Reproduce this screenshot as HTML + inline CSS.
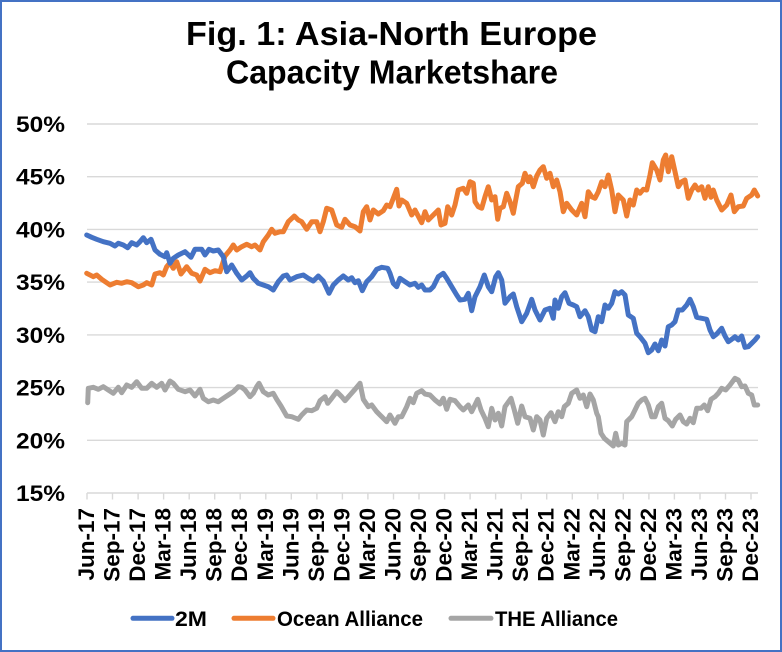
<!DOCTYPE html>
<html>
<head>
<meta charset="utf-8">
<style>
  html,body{margin:0;padding:0;background:#fff;}
  svg{display:block;}
  text{font-family:"Liberation Sans",Arial,sans-serif;font-weight:bold;fill:#000;}
</style>
</head>
<body>
<svg width="782" height="652" viewBox="0 0 782 652" xmlns="http://www.w3.org/2000/svg">
  <rect x="1" y="1" width="780" height="650" fill="#fff" stroke="#4472C4" stroke-width="2"/>

  <!-- Title -->
  <text x="391.5" y="45" font-size="33" text-anchor="middle" textLength="411" lengthAdjust="spacingAndGlyphs">Fig. 1: Asia-North Europe</text>
  <text x="392" y="83.5" font-size="33" text-anchor="middle" textLength="332" lengthAdjust="spacingAndGlyphs">Capacity Marketshare</text>

  <!-- Gridlines -->
  <g stroke="#D9D9D9" stroke-width="1.4">
    <line x1="87" y1="124" x2="758" y2="124"/>
    <line x1="87" y1="176.7" x2="758" y2="176.7"/>
    <line x1="87" y1="229.4" x2="758" y2="229.4"/>
    <line x1="87" y1="282.1" x2="758" y2="282.1"/>
    <line x1="87" y1="334.9" x2="758" y2="334.9"/>
    <line x1="87" y1="387.6" x2="758" y2="387.6"/>
    <line x1="87" y1="440.3" x2="758" y2="440.3"/>
    <line x1="87" y1="493" x2="758" y2="493"/>
  </g>
  <!-- Ticks -->
  <g stroke="#D9D9D9" stroke-width="1.4">
    <line x1="87" y1="493" x2="87" y2="499.5"/>
    <line x1="112.5" y1="493" x2="112.5" y2="499.5"/>
    <line x1="138.1" y1="493" x2="138.1" y2="499.5"/>
    <line x1="163.6" y1="493" x2="163.6" y2="499.5"/>
    <line x1="189.2" y1="493" x2="189.2" y2="499.5"/>
    <line x1="214.7" y1="493" x2="214.7" y2="499.5"/>
    <line x1="240.2" y1="493" x2="240.2" y2="499.5"/>
    <line x1="265.8" y1="493" x2="265.8" y2="499.5"/>
    <line x1="291.3" y1="493" x2="291.3" y2="499.5"/>
    <line x1="316.9" y1="493" x2="316.9" y2="499.5"/>
    <line x1="342.4" y1="493" x2="342.4" y2="499.5"/>
    <line x1="367.9" y1="493" x2="367.9" y2="499.5"/>
    <line x1="393.5" y1="493" x2="393.5" y2="499.5"/>
    <line x1="419" y1="493" x2="419" y2="499.5"/>
    <line x1="444.6" y1="493" x2="444.6" y2="499.5"/>
    <line x1="470.1" y1="493" x2="470.1" y2="499.5"/>
    <line x1="495.6" y1="493" x2="495.6" y2="499.5"/>
    <line x1="521.2" y1="493" x2="521.2" y2="499.5"/>
    <line x1="546.7" y1="493" x2="546.7" y2="499.5"/>
    <line x1="572.3" y1="493" x2="572.3" y2="499.5"/>
    <line x1="597.8" y1="493" x2="597.8" y2="499.5"/>
    <line x1="623.3" y1="493" x2="623.3" y2="499.5"/>
    <line x1="648.9" y1="493" x2="648.9" y2="499.5"/>
    <line x1="674.4" y1="493" x2="674.4" y2="499.5"/>
    <line x1="700" y1="493" x2="700" y2="499.5"/>
    <line x1="725.5" y1="493" x2="725.5" y2="499.5"/>
    <line x1="751" y1="493" x2="751" y2="499.5"/>
  </g>

  <!-- Y labels -->
  <g font-size="22" text-anchor="end">
    <text x="65" y="132" textLength="49" lengthAdjust="spacingAndGlyphs">50%</text>
    <text x="65" y="184.7" textLength="49" lengthAdjust="spacingAndGlyphs">45%</text>
    <text x="65" y="237.4" textLength="49" lengthAdjust="spacingAndGlyphs">40%</text>
    <text x="65" y="290.1" textLength="49" lengthAdjust="spacingAndGlyphs">35%</text>
    <text x="65" y="342.9" textLength="49" lengthAdjust="spacingAndGlyphs">30%</text>
    <text x="65" y="395.6" textLength="49" lengthAdjust="spacingAndGlyphs">25%</text>
    <text x="65" y="448.3" textLength="49" lengthAdjust="spacingAndGlyphs">20%</text>
    <text x="65" y="501" textLength="49" lengthAdjust="spacingAndGlyphs">15%</text>
  </g>

  <!-- X labels -->
  <g font-size="22.5" text-anchor="end">
    <text transform="translate(94,508) rotate(-90)">Jun-17</text>
    <text transform="translate(119.5,508) rotate(-90)">Sep-17</text>
    <text transform="translate(145.1,508) rotate(-90)">Dec-17</text>
    <text transform="translate(170.6,508) rotate(-90)">Mar-18</text>
    <text transform="translate(196.2,508) rotate(-90)">Jun-18</text>
    <text transform="translate(221.7,508) rotate(-90)">Sep-18</text>
    <text transform="translate(247.2,508) rotate(-90)">Dec-18</text>
    <text transform="translate(272.8,508) rotate(-90)">Mar-19</text>
    <text transform="translate(298.3,508) rotate(-90)">Jun-19</text>
    <text transform="translate(323.9,508) rotate(-90)">Sep-19</text>
    <text transform="translate(349.4,508) rotate(-90)">Dec-19</text>
    <text transform="translate(374.9,508) rotate(-90)">Mar-20</text>
    <text transform="translate(400.5,508) rotate(-90)">Jun-20</text>
    <text transform="translate(426,508) rotate(-90)">Sep-20</text>
    <text transform="translate(451.6,508) rotate(-90)">Dec-20</text>
    <text transform="translate(477.1,508) rotate(-90)">Mar-21</text>
    <text transform="translate(502.6,508) rotate(-90)">Jun-21</text>
    <text transform="translate(528.2,508) rotate(-90)">Sep-21</text>
    <text transform="translate(553.7,508) rotate(-90)">Dec-21</text>
    <text transform="translate(579.3,508) rotate(-90)">Mar-22</text>
    <text transform="translate(604.8,508) rotate(-90)">Jun-22</text>
    <text transform="translate(630.3,508) rotate(-90)">Sep-22</text>
    <text transform="translate(655.9,508) rotate(-90)">Dec-22</text>
    <text transform="translate(681.4,508) rotate(-90)">Mar-23</text>
    <text transform="translate(707,508) rotate(-90)">Jun-23</text>
    <text transform="translate(732.5,508) rotate(-90)">Sep-23</text>
    <text transform="translate(758,508) rotate(-90)">Dec-23</text>
  </g>

  <!-- Series -->
  <g fill="none" stroke-width="5" stroke-linejoin="round" stroke-linecap="round">
    <polyline stroke="#A5A5A5" points="87.7,402.7 88.3,388.3 93.3,387.3 98.3,389.3 103.3,386.7 108.3,390 113.3,393.3 118.3,387.3 121.7,392.7 126.7,385 131.7,387.3 136.7,381.7 141.7,388.3 146.7,388.3 151.7,383.3 156.7,387.3 161.7,383.3 165,390 170,381 173.3,383.3 178.3,389.3 185,391.7 190,390 195,396 200,389.3 203.3,398.3 208.3,401.7 213.3,400 218.3,401.7 223.3,398.3 228.3,395 233.3,391.7 238.3,386.7 241.7,387.3 245,390 250,396.7 253.3,393.3 256.7,386.7 259,383.3 263.3,391.7 268.3,395 273.3,393.3 276.7,399.3 281,406 286.7,416 291.7,416.7 298.3,419.3 301.7,415 306.7,410 311.7,410.7 316.7,408.3 320,400.7 325,396.7 327.7,403.3 331.7,398.3 336.7,391.7 341.7,396.7 345,400.7 350,395 355,389.3 360,383.3 363.3,399.3 368.3,406.7 371.7,405 376.7,411.7 381.7,416.7 386.7,421.7 390,415 395,423.3 398.3,416.7 401.7,416.7 406.7,406.7 410,398.3 413.3,402.7 416.7,393.3 421.7,390.7 425,394 430,395 435,400 440,404 443.3,398.3 446.7,409.3 450,399.3 455,400.7 460,406.7 463.3,410 468.3,405 471.7,411.7 477.7,399.3 481,410 485,418.3 488.3,426.7 491.7,408.3 495,420 498.3,413.3 501.7,426 505,406.7 511,398.3 514.3,410 517.7,423.3 521.7,406 525,416.7 530,418.3 533.3,430 536.7,416.7 540,420 543.3,435 546.7,418.3 551,412.7 555,421.7 558.3,411.7 561.7,416.7 564.3,406.7 568.3,403.3 571.7,393.3 576.7,390 580,398.3 583.3,395 586.7,406.7 590,394 593.3,400 596.7,413.3 598.3,416.7 601,433.3 604.3,438.3 608.3,441.7 613.3,446 615.7,433.3 618.3,445 621.7,443.3 625,445 626.7,421.7 631.7,416.7 635,410 638.3,403.3 641.7,400 645,398.3 648.3,405 651.7,416.7 655,416.7 658.3,406.7 661.7,403.3 665,418.3 668.3,420.7 672.3,426 675.7,419.3 680,415 683.3,421.7 686.7,424 690,418.3 693.3,422.7 696.7,408.3 701,408.3 704.3,405 707.7,410.7 711,399.3 715,396.7 718.3,393.3 721.7,388.3 725.7,390 730,385 735,378.3 738.3,380 741.7,386.7 745,386 748.3,393.3 751.7,395 754.3,405 757.7,405"/>
    <polyline stroke="#ED7D31" points="86.7,273.3 93.3,276.7 96.7,275 101.7,279.3 110,285 116.7,282.3 121.7,283.3 126.7,281.7 131.7,282.7 138.3,286.7 143.3,285 146.7,282.7 151.7,285 155,274 160,272.7 163.3,275 166.7,266.7 170,262.7 173.3,268.3 176.7,261.7 181,274 186.7,266.7 191.7,273.3 196.7,275 200,281 205,269.3 210,272.7 215,270.7 220,271.7 225,256 230,250 233.3,245 236.7,250 241.7,246.7 246.7,244.3 251.7,246.7 255,245 260,250 263.3,241.7 268.3,235 271.7,229.3 275,233.3 280,231.7 283.3,231.7 288.3,221.7 294.3,216 298.3,220 301.7,221.7 306.7,229.3 311.7,221.7 316.7,221.7 320,231.7 323.3,221.7 326.7,208.3 331.7,210 336.7,225 341.7,227.3 345,219.3 350,225 355,226.7 360,231 363.3,211.7 366.7,206.7 370,220 373.3,210 378.3,214 383.3,210.7 386.7,205 390,206.7 393.3,198.3 396.7,189.3 399,206 401.7,200 406.7,203.3 411.7,215 415,210 421.7,222.7 425,211.7 428.3,220 433.3,215 438.3,210 441,225 445,223.3 447.7,206.7 451.7,215 455,205 458.3,190 463.3,188.3 466.7,193.3 470,181.7 473.3,183.3 475,201.7 478.3,206.7 481.7,208.3 485,196.7 488.3,186.7 491.7,200 495,196.7 497.7,219.3 500,208.3 503.3,206.7 506.7,193.3 510,201.7 513.3,213.3 515.7,200 518.3,186.7 522.3,183.3 525,173.3 528.3,181.7 530,176.7 533.3,186.7 536.7,176 540,170 543.3,166.7 546.7,178.3 550,173.3 553.3,186.7 556.7,180 560,191.7 563.3,211.7 566.7,203.3 571.7,210 576.7,215 581.7,203.3 585,216.7 588.3,191.7 591.7,196.7 595,198.3 598.3,191.7 601.7,181.7 605,186.7 608.3,175 611.7,190 615,211.7 618.3,195 623.3,200 626.7,216 630,200 633.3,205 636.7,190 640,193.3 643.3,189.3 646.7,190 650,175 652.3,162.7 656.7,170 660,180 663.3,160 665.7,155 668.3,171.7 671.7,156.7 675,171.7 678.3,186.7 681.7,181.7 685,180 688.3,198.3 691.7,190 695,185 698.3,190 701.7,186.7 705,198.3 708.3,186.7 711,197.3 713.3,190 716.7,200 721.7,210 726.7,205 731,195 734.3,211.7 738.3,206.7 743.3,206 746.7,198.3 751.7,195 754.3,190 757.7,196"/>
    <polyline stroke="#4472C4" points="86.7,235 91.7,237.3 96.7,239.3 103.3,241.7 110,243.3 115,246 118.3,243.3 123.3,245 127.7,247.7 131.7,242.7 136.7,245 140,241.7 143.3,237.7 146.7,242.7 151,239.3 155,250 160,254.3 165,256.7 166.7,252.7 170,263.3 173.3,258.3 178.3,255 185,251.7 191,257.3 195,249.3 201.7,249.3 205,255 209,249.3 213.3,251 218.3,250 223.3,256.7 226.7,271.7 231.7,265 236.7,273.3 241.7,280 246.7,276 250,272.7 253.3,278.3 258.3,283.3 263.3,285 268.3,286.7 273.3,290 278.3,281.7 283.3,276 286.7,275 290,280 296.7,276.7 303.3,275 308.3,278.3 313.3,281 318.3,276 323.3,281 329,293.3 333.3,285 338.3,280 343.3,276 348.3,280 351.7,277.7 355,282.7 358.3,280.7 362.3,290.7 366.7,281.7 371.7,276.7 376.7,269.3 381.7,267.3 387.7,268.3 390,273.3 393.3,283.3 396.7,286.7 400,278.3 405,281.7 410,285 415,283.3 418.3,287.3 421.7,285 425,290 430,290 433.3,286.7 438.3,276.7 443.3,273.3 446.7,278.3 451.7,286.7 456.7,295 460,300 465,299.3 468.3,293.3 471.7,310.7 475,296.7 480,286.7 484.3,275 488.3,286.7 491.7,291.7 495.7,276.7 498.3,272.7 501.7,280 505,303.3 510,296.7 513.3,294 516.7,306.7 521.7,321.7 526.7,313.3 531.7,299.3 535,310 540,320 545,310 550,308.3 553.3,318.3 555,300 558.3,308.3 561.7,296.7 565,292.7 569,303.3 573.3,305 576.7,306.7 580,316.7 585,310.7 588.3,316.7 591.7,330 595,331.7 598.3,316.7 601.7,321.7 605,305 608.3,308.3 611.7,303.3 615,291.7 618.3,294 621.7,291.7 625,295 628.3,315 633.3,318.3 636.7,333.3 640,336.7 645,343.3 648.3,352.7 651.7,350 655,344 658.3,350.7 661.7,340 665,346 668.3,326.7 671.7,325 675,321.7 678.3,310 682.3,310 686.7,305 690,299.3 693.3,306.7 696.7,317.3 701.7,318.3 706.7,319.3 710,330 713.3,336.7 716.7,334 721.7,328.3 725,336 728.3,341.7 731.7,339.3 735,336.7 738.3,340 741.7,336 745,347.3 748.3,346.7 751.7,343.3 755,340 757.7,336.7"/>
  </g>

  <!-- Legend -->
  <g stroke-width="5" stroke-linecap="round">
    <line x1="133" y1="618.3" x2="172" y2="618.3" stroke="#4472C4"/>
    <line x1="234" y1="618.3" x2="273" y2="618.3" stroke="#ED7D31"/>
    <line x1="451" y1="618.3" x2="491" y2="618.3" stroke="#A5A5A5"/>
  </g>
  <g font-size="21">
    <text x="175" y="626" textLength="32" lengthAdjust="spacingAndGlyphs">2M</text>
    <text x="277" y="626" textLength="146" lengthAdjust="spacingAndGlyphs">Ocean Alliance</text>
    <text x="495" y="626" textLength="123" lengthAdjust="spacingAndGlyphs">THE Alliance</text>
  </g>
</svg>
</body>
</html>
